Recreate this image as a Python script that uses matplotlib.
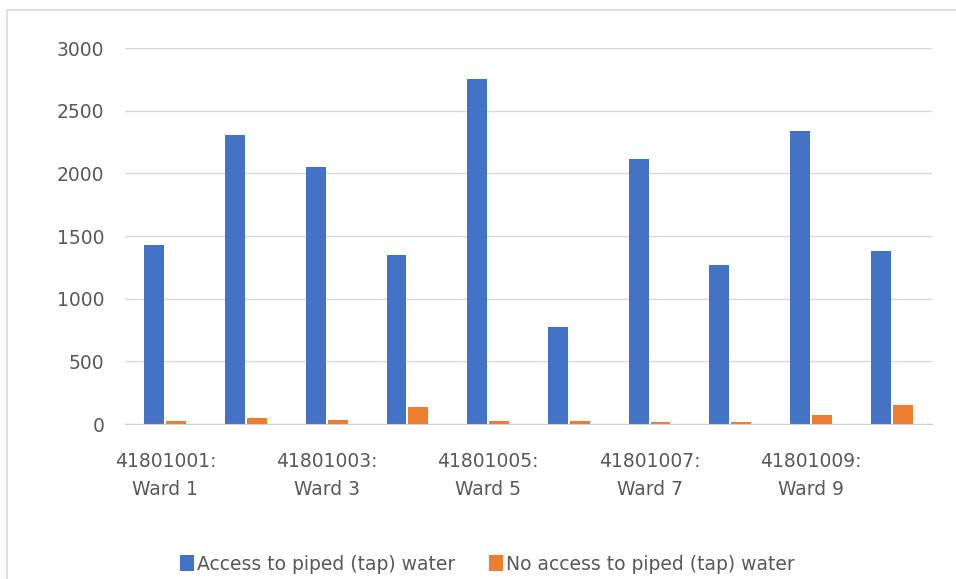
import matplotlib.pyplot as plt
import numpy as np
from matplotlib.patches import Rectangle

wards = [f"4180100{i}:\nWard {i}" if i < 10 else "41801010:\nWard 10" for i in range(1, 11)]
access = [1428, 2306, 2051, 1349, 2753, 774, 2115, 1269, 2338, 1381]
no_access = [21, 50, 34, 133, 21, 21, 18, 18, 69, 149]

blue = "#4472C4"
orange = "#ED7D31"
grey_text = "#595959"

plt.rcParams["font.family"] = ["DejaVu Sans"]

fig = plt.figure(figsize=(9.56, 5.79), dpi=100)
# outer chart border (runs off the right and bottom edges)
fig.patches.append(Rectangle((7 / 956, -0.05), 1.2, 1 - 9.5 / 579 + 0.05,
                             transform=fig.transFigure, fill=False,
                             edgecolor="#d9d9d9", linewidth=1.2))

ax = fig.add_axes([125 / 956, 1 - 424 / 579, (932 - 125) / 956, (424 - 48) / 579])

x = np.arange(len(wards))
w = 0.247
ax.bar(x - w / 2 - 0.012, access, width=w, color=blue, label="Access to piped (tap) water")
ax.bar(x + w / 2 + 0.012, no_access, width=w, color=orange, label="No access to piped (tap) water")

ax.set_xlim(-0.5, len(wards) - 0.5)
ax.set_ylim(0, 3000)
ax.set_yticks(range(0, 3001, 500))
ax.set_xticks(x[::2])
ax.set_xticklabels(wards[::2], linespacing=1.6)
ax.tick_params(axis="both", length=0, labelsize=13.5, colors=grey_text)
ax.tick_params(axis="x", pad=20)
ax.tick_params(axis="y", pad=15)
ax.grid(axis="y", color="#d9d9d9", linewidth=1)
ax.set_axisbelow(True)
for side in ["top", "right", "left"]:
    ax.spines[side].set_visible(False)
ax.spines["bottom"].set_color("#d0d0d0")

fig.legend(loc="center", bbox_to_anchor=(487 / 956, 1 - 564 / 579), ncol=2,
           frameon=False, fontsize=13.5, labelcolor=grey_text,
           handlelength=0.75, handleheight=0.9, handletextpad=0.15, columnspacing=1.8)

fig.savefig("out.png", dpi=100)
